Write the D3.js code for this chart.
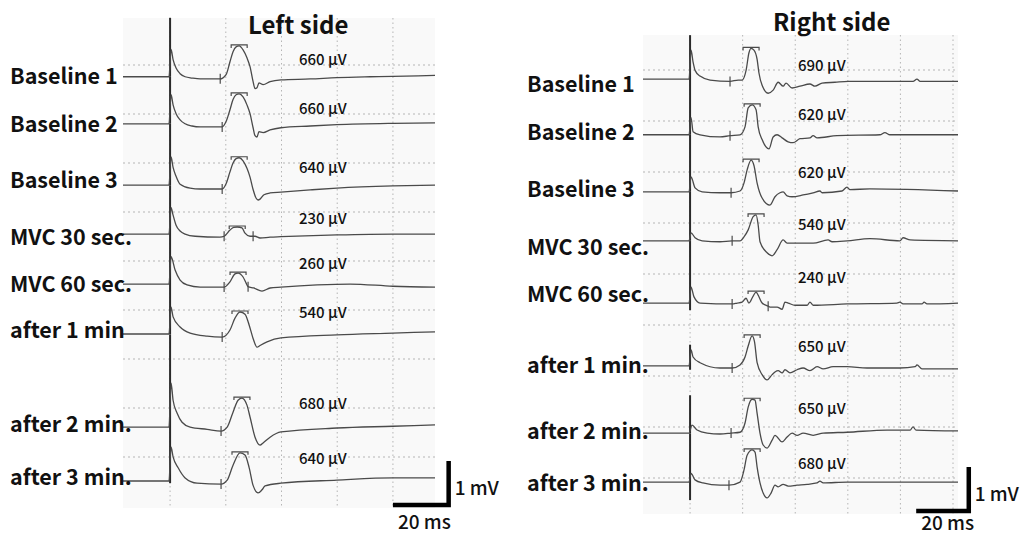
<!DOCTYPE html>
<html>
<head>
<meta charset="utf-8">
<script src="https://cdn.jsdelivr.net/npm/d3@7"></script>
<style>
  body { margin: 0; background: #fff; }
  svg text { font-family: "Noto Sans CJK JP", "Noto Sans", sans-serif; fill: #111; }
</style>
</head>
<body>
<svg id="chart" width="1027" height="535"></svg>
<script>
// ---- data (time in ms after the stimulus, voltage in mV) ----
const leftLabels = ["Baseline 1", "Baseline 2", "Baseline 3", "MVC 30 sec.", "MVC 60 sec.", "after 1 min", "after 2 min.", "after 3 min."];
const rightLabels = ["Baseline 1", "Baseline 2", "Baseline 3", "MVC 30 sec.", "MVC 60 sec.", "after 1 min.", "after 2 min.", "after 3 min."];

const leftAmps = [660, 660, 640, 230, 260, 540, 680, 640];   // µV
const rightAmps = [690, 620, 620, 540, 240, 650, 650, 680];

// where each sweep sits on the screen, in grid divisions below the first grid line
const leftOffsets = [0.24, 1.20, 2.45, 3.45, 4.47, 5.49, 7.39, 8.49];
const rightOffsets = [0.18, 1.27, 2.39, 3.35, 4.57, 5.80, 7.12, 8.08];

// stimulus artefact, mV above / below the sweep
const leftArtUp = [1.34, 1.07, 1.39, 1.11, 1.14, 1.14, 2.11, 1.23];
const leftArtDown = [0, 0, 0, 0, 0, 0, 0, 0.05];
const rightArtUp = [1.0, 1.27, 1.3, 1.11, 1.41, 0.48, 0.86, 1.11];
const rightArtDown = [0, 0, 0, 0, 0.16, 0.09, 0, 0.41];

// cursor marks: M-wave onset and (where shown) end
const leftOnset = [18, 18.7, 18.7, 19.4, 19.4, 18.7, 18.3, 18.3];
const leftEnd = [null, null, null, 29.8, 28, null, null, null];
const rightOnset = [15.2, 15.2, 15.6, 16, 16, 16, 15.6, 14.8];
const rightEnd = [null, null, null, null, 29.7, null, null, null];

const leftTraces = [
  [[-16.9,0],[-0.4,0],[0.36,0.62],[1.08,0.39],[2.15,0.2],[3.6,0.07],[5.4,0],[7.9,-0.03],[10.8,-0.05],[17.9,-0.05],[20.1,0.05],[21.5,0.34],[22.6,0.57],[23.7,0.68],[24.8,0.7],[26.2,0.61],[27.6,0.43],[28.7,0.23],[29.8,-0.11],[30.5,-0.27],[31.2,-0.25],[31.9,-0.14],[33.4,-0.18],[35.9,-0.11],[39.8,-0.07],[50.3,-0.05],[59.9,-0.02],[71.8,0],[80,0.01],[95.1,0.03]],
  [[-16.9,0],[-0.4,0],[0.36,0.66],[1.08,0.43],[2.15,0.23],[3.6,0.09],[5.4,0],[7.9,-0.05],[10.8,-0.07],[18.7,-0.07],[20.1,0.05],[21.5,0.32],[22.6,0.55],[23.7,0.66],[24.8,0.68],[26.2,0.61],[27.6,0.43],[28.7,0.23],[29.8,-0.09],[30.5,-0.27],[31.2,-0.3],[31.9,-0.18],[33.4,-0.2],[35.9,-0.14],[39.8,-0.09],[50.3,-0.05],[59.9,-0.02],[80,0.01],[95.1,0.02]],
  [[-16.9,0],[-0.4,0],[0.36,0.64],[1.08,0.4],[2.15,0.2],[3.6,0.02],[7.2,-0.07],[10.8,-0.09],[18.7,-0.09],[20.1,0.03],[21.5,0.3],[22.6,0.5],[23.7,0.6],[24.8,0.62],[26.2,0.55],[27.6,0.38],[28.7,0.18],[29.8,-0.1],[30.9,-0.3],[31.6,-0.34],[32.3,-0.32],[33.7,-0.22],[35.9,-0.18],[39.8,-0.16],[50.3,-0.11],[59.9,-0.07],[80,-0.02],[95.1,0]],
  [[-16.9,0],[-0.4,0],[0.36,0.6],[1.08,0.43],[2.15,0.2],[3.6,0.07],[5.4,0],[9,-0.05],[17.9,-0.07],[19.4,-0.05],[21.5,0.09],[22.8,0.15],[24.1,0.16],[25.8,0.14],[26.9,0.02],[28.7,-0.05],[30.5,-0.05],[32.3,-0.09],[35.9,-0.07],[39.8,-0.06],[59.9,-0.02],[80,0],[95.1,0]],
  [[-16.9,0],[-0.4,0],[0.36,0.62],[1.8,0.32],[3.6,0.09],[6.1,-0.02],[10.8,-0.07],[19.4,-0.07],[21.5,0.05],[23.3,0.23],[24.4,0.25],[26.2,0.16],[27.3,0.02],[28,-0.06],[30,-0.09],[33,-0.16],[35.9,-0.09],[39.8,-0.07],[52.8,-0.02],[64.6,0],[80,-0.05],[95.1,-0.07]],
  [[-16.9,0],[-0.4,0],[0.36,0.61],[1.08,0.39],[3.6,0.16],[7.2,0.02],[13.3,-0.05],[18.7,-0.07],[21.5,0.09],[23.3,0.36],[25.1,0.5],[26.9,0.45],[28.4,0.2],[29.8,-0.1],[31.2,-0.3],[32.3,-0.26],[34.8,-0.18],[39.8,-0.09],[59.9,-0.02],[80,0.02],[95.1,0.05]],
  [[-16.9,0],[-0.4,0],[0.36,1.0],[1.08,0.61],[2.5,0.32],[4.3,0.11],[7.2,0],[13.3,-0.05],[18.3,-0.09],[20.5,0],[22.6,0.34],[24.4,0.61],[25.8,0.66],[27.6,0.5],[28.7,0.23],[30.5,-0.23],[32.3,-0.41],[33.4,-0.36],[35.9,-0.23],[39.8,-0.11],[59.9,-0.02],[80,0.02],[95.1,0.05]],
  [[-16.9,0],[-0.4,0],[0.36,0.77],[1.08,0.55],[2.9,0.3],[5.4,0.07],[9.7,-0.05],[18.3,-0.07],[20.5,0.02],[22.6,0.36],[25.1,0.64],[26.9,0.59],[28.4,0.3],[29.8,-0.1],[31.6,-0.27],[33,-0.2],[34.1,-0.11],[39.8,-0.05],[59.9,0.02],[80,0.07],[95.1,0.07]]
];

const rightTraces = [
  [[-17.9,0],[-0.4,0],[0.38,0.66],[1.14,0.39],[1.9,0.2],[3.8,0.07],[7.6,-0.02],[15.2,-0.05],[18.3,-0.02],[19.8,-0.02],[21.3,0.2],[22.4,0.6],[23.2,0.7],[24.3,0.66],[25.5,0.45],[26.2,0.14],[27.4,-0.14],[29.7,-0.32],[31.6,-0.25],[33.5,-0.07],[35.4,-0.16],[36.5,-0.09],[38.8,-0.2],[41.8,-0.16],[45.6,-0.11],[47.5,-0.16],[50.2,-0.09],[55.1,-0.07],[60.1,-0.05],[84.8,-0.05],[86.3,0],[87.5,-0.05],[101.9,-0.05]],
  [[-17.9,0],[-0.4,0],[0.38,0.39],[1.14,0.07],[3.8,0],[11.4,-0.05],[15.2,-0.02],[19,0],[20.9,0.18],[22.1,0.61],[23.6,0.68],[25.1,0.57],[25.9,0.18],[27.4,-0.11],[30,-0.32],[31.6,-0.05],[33.1,0],[35,-0.07],[37.3,-0.16],[39.2,-0.18],[41.8,-0.09],[45.6,-0.07],[46.8,-0.02],[48.3,-0.07],[55.9,-0.02],[72.2,0],[74.1,0.05],[76,0],[101.9,0]],
  [[-17.9,0],[-0.4,0],[0.38,0.34],[1.9,0.09],[4.6,0],[11.4,-0.02],[15.6,-0.02],[19,0.02],[20.5,0.2],[21.7,0.5],[23.2,0.72],[24.3,0.6],[25.5,0.2],[27.4,-0.14],[30.4,-0.3],[32.3,-0.11],[34.2,-0.02],[35.4,0],[36.9,-0.09],[38.8,-0.11],[43,-0.07],[46.8,-0.02],[49.4,0.02],[50.2,-0.02],[57.8,0.02],[59.7,0.11],[60.8,0.05],[68.4,0.07],[101.9,0.02]],
  [[-17.9,0],[-0.4,0],[0.38,0.18],[1.9,0.07],[4.6,0],[11.4,-0.02],[16,0],[19,0],[20.5,0.09],[22.1,0.25],[24,0.55],[25.1,0.59],[25.9,0.36],[26.6,-0.02],[29.3,-0.27],[31.2,-0.34],[33.1,-0.2],[35.4,0.02],[36.9,-0.05],[39.9,-0.05],[46.8,-0.05],[52.5,0.02],[54,-0.02],[59.7,0],[68.4,0.05],[79.8,0],[81,0.07],[83.7,0.02],[101.9,0]],
  [[-17.9,0],[-0.4,0],[0.38,0.36],[1.5,0.14],[3.8,0],[16,-0.02],[17.9,0],[19.8,0.02],[21.3,0.11],[22.4,0],[24,0.16],[25.1,0.25],[25.9,0.18],[27.4,0],[29.7,-0.07],[30.4,-0.09],[33.1,-0.09],[35,-0.14],[36.1,0.02],[37.3,0],[39.9,-0.05],[44.5,-0.05],[45.6,0.02],[46.8,-0.05],[59.7,-0.02],[78.7,0],[79.8,0.02],[81,-0.02],[88.2,-0.02],[89,0.02],[90.1,-0.02],[101.9,0]],
  [[-17.9,0],[-0.4,0],[0.38,0.36],[1.14,0.2],[3.8,0.07],[11.4,-0.05],[16,-0.05],[19,0.02],[20.9,0.2],[22.1,0.45],[23.6,0.68],[24.5,0.55],[25.5,0.07],[27.4,-0.2],[29.3,-0.32],[31.2,-0.2],[32.3,-0.14],[33.5,-0.11],[35,-0.16],[36.1,-0.09],[38,-0.16],[40.7,-0.09],[43,-0.05],[45.6,-0.11],[48.3,-0.02],[50.6,-0.07],[54.4,-0.02],[59.7,-0.02],[67.3,-0.05],[79.8,-0.05],[85.6,-0.02],[86.3,0.02],[88.2,-0.07],[101.9,-0.07]],
  [[-17.9,0],[-0.4,0],[0.76,0.18],[2.66,0.07],[6.5,0],[11.4,-0.02],[15.6,0],[19,0.02],[20.9,0.23],[22.1,0.59],[23.6,0.77],[24.7,0.75],[25.5,0.45],[26.6,0],[27.8,-0.27],[29.3,-0.34],[31.2,-0.16],[32.3,-0.05],[35,-0.2],[36.9,-0.09],[38.8,0],[40.7,-0.05],[43,0],[46.8,-0.05],[50.6,0],[59.7,0.02],[74.9,0.07],[83.7,0.07],[84.8,0.14],[85.9,0.07],[101.9,0.05]],
  [[-17.9,0],[-0.4,0],[0.38,0.2],[1.9,0.05],[4.9,-0.02],[11.4,-0.07],[14.8,-0.07],[19,0],[20.5,0.27],[21.7,0.61],[23.6,0.73],[24.7,0.68],[25.5,0.34],[26.6,-0.02],[27.8,-0.25],[29.3,-0.36],[30.8,-0.25],[32.3,-0.07],[33.5,-0.11],[35.4,-0.05],[37.3,-0.09],[40.7,-0.07],[44.5,-0.05],[48.3,-0.02],[49.4,0.02],[50.6,-0.02],[59.7,0],[81,0],[101.9,0]]
];

const svg = d3.select("#chart");

// linear read-out of a sweep at time t
function valueAt(tr, t) {
  const i = d3.bisector(d => d[0]).left(tr, t);
  if (i <= 0) return tr[0][1];
  if (i >= tr.length) return tr[tr.length - 1][1];
  const a = tr[i - 1], b = tr[i];
  return a[1] + (b[1] - a[1]) * (t - a[0]) / (b[0] - a[0]);
}

function drawPanel(p) {
  const g = svg.append("g");
  const x = d3.scaleLinear().domain([p.tMin, p.tMax]).range([p.left, p.right]);
  const row = d3.scaleLinear().domain([0, 1]).range([p.grid0, p.grid0 + p.gridStep]);
  const mv = d3.scaleLinear().domain([0, 1]).range([0, -44]);   // 1 mV = 44 px
  const yOf = (i, v) => row(p.offsets[i]) + mv(v);

  g.append("rect")
    .attr("x", p.left).attr("y", p.top)
    .attr("width", p.right - p.left).attr("height", p.bottom - p.top)
    .attr("fill", "#f9f9f9");

  const nRows = Math.floor(row.invert(p.bottom) - 0.1);
  g.selectAll(".hgrid")
      .data(d3.range(0, nRows + 1))
    .enter()
      .append("line")
      .attr("x1", p.left).attr("x2", p.right)
      .attr("y1", d => row(d)).attr("y2", d => row(d))
      .style("stroke", "#b5b5b5").style("stroke-width", 1)
      .style("stroke-dasharray", "2,3");
  g.selectAll(".vgrid")
      .data(d3.range(0, p.tMax, 20))
    .enter()
      .append("line")
      .attr("x1", d => x(d)).attr("x2", d => x(d))
      .attr("y1", p.top).attr("y2", p.bottom)
      .style("stroke", "#b5b5b5").style("stroke-width", 1)
      .style("stroke-dasharray", "1.5,3");

  // stimulus artefacts
  g.selectAll(".stim")
      .data(p.offsets)
    .enter()
      .append("line")
      .attr("x1", x(0)).attr("x2", x(0))
      .attr("y1", (d, i) => yOf(i, p.artUp[i]))
      .attr("y2", (d, i) => yOf(i, -p.artDown[i]))
      .style("stroke", "#2a2a2a").style("stroke-width", 2);

  // sweeps
  g.selectAll(".trace")
      .data(p.traces)
    .enter()
      .append("path")
      .attr("d", (tr, i) => d3.line()
          .x(d => x(d[0]))
          .y(d => yOf(i, d[1]))
          .curve(d3.curveMonotoneX)(tr))
      .style("fill", "none")
      .style("stroke", "#4a4a4a")
      .style("stroke-width", 1.3);

  // onset / end cursors (+)
  const marks = [];
  p.traces.forEach((tr, i) => {
    marks.push({i, t: p.onset[i], v: valueAt(tr, p.onset[i])});
    if (p.end[i] != null) marks.push({i, t: p.end[i], v: valueAt(tr, p.end[i])});
  });
  g.selectAll(".cursor")
      .data(marks)
    .enter()
      .append("line")
      .attr("x1", d => x(d.t)).attr("x2", d => x(d.t))
      .attr("y1", d => yOf(d.i, d.v) - 5).attr("y2", d => yOf(d.i, d.v) + 5)
      .style("stroke", "#4a4a4a").style("stroke-width", 1.2);

  // peak cursors
  const peaks = p.traces.map((tr, i) => {
    const win = tr.filter(d => d[0] > p.onset[i] && d[0] < p.onset[i] + 12);
    const pk = win.reduce((a, b) => (b[1] > a[1] ? b : a));
    return {i, t: pk[0], v: pk[1]};
  });
  g.selectAll(".peak")
      .data(peaks)
    .enter()
      .append("path")
      .attr("d", d => {
        const cx = x(d.t), cy = yOf(d.i, d.v) - 1;
        return "M" + (cx - 8) + "," + (cy + 3) + "V" + cy + "H" + (cx + 8) + "V" + (cy + 3);
      })
      .style("fill", "none")
      .style("stroke", "#4a4a4a").style("stroke-width", 1.2);

  // sweep names
  g.selectAll(".label")
      .data(p.labels)
    .enter()
      .append("text")
      .attr("x", p.labelX)
      .attr("y", (d, i) => yOf(i, 0) + p.labelDy[i])
      .style("font-size", "21.5px").style("font-weight", "bold")
      .text(d => d);

  // amplitudes
  g.selectAll(".amp")
      .data(p.amps)
    .enter()
      .append("text")
      .attr("x", p.ampX)
      .attr("y", (d, i) => yOf(i, 0) + p.ampDy[i])
      .style("font-size", "15px").style("font-weight", "500")
      .text(d => d + " µV");

  g.append("text")
    .attr("x", p.titleX).attr("y", p.titleY)
    .style("font-size", "24px").style("font-weight", "bold")
    .text(p.title);

  // calibration bar: 20 ms x 1 mV
  const bx0 = x(p.barT), bx1 = x(p.barT + 20);
  g.append("path")
    .attr("d", "M" + bx0 + "," + p.barY + "H" + bx1 + "V" + (p.barY + mv(1)))
    .style("fill", "none").style("stroke", "#000").style("stroke-width", 4.5);
  g.append("text")
    .attr("x", bx1 + 6).attr("y", p.barY + mv(1) + 34)
    .style("font-size", "19px").style("font-weight", "500")
    .text("1 mV");
  g.append("text")
    .attr("x", bx0 + 5).attr("y", Math.min(p.barY + 24, 530))
    .style("font-size", "19px").style("font-weight", "500")
    .text("20 ms");
}

drawPanel({
  title: "Left side", titleX: 248, titleY: 34,
  labels: leftLabels, amps: leftAmps, offsets: leftOffsets, traces: leftTraces,
  artUp: leftArtUp, artDown: leftArtDown, onset: leftOnset, end: leftEnd,
  left: 123, right: 435, top: 18, bottom: 508, tMin: -16.9, tMax: 95.1,
  grid0: 65, gridStep: 49,
  labelX: 10, labelDy: [7, 8, 3, 11, 8, 4, 5, 4],
  ampX: 299, ampDy: [-12, -10, -12, -10, -15, -16, -18, -17],
  barT: 80, barY: 505
});

drawPanel({
  title: "Right side", titleX: 773, titleY: 31,
  labels: rightLabels, amps: rightAmps, offsets: rightOffsets, traces: rightTraces,
  artUp: rightArtUp, artDown: rightArtDown, onset: rightOnset, end: rightEnd,
  left: 643, right: 958, top: 35, bottom: 514, tMin: -17.9, tMax: 101.9,
  grid0: 70, gridStep: 51,
  labelX: 527, labelDy: [13, 5, 5, 14, -1, 7, 6, 9],
  ampX: 798, ampDy: [-8, -15, -14, -11, -20, -14, -19, -13],
  barT: 86, barY: 511
});
</script>
</body>
</html>
